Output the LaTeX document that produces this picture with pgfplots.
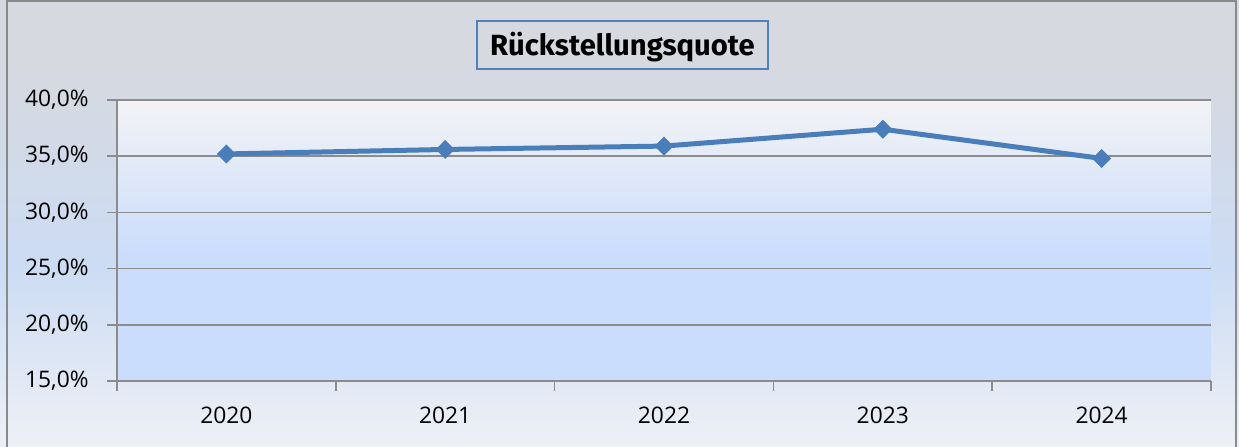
\documentclass[border=0pt]{standalone}
\usepackage{fontspec}
\setmainfont{Open Sans}
\newfontfamily\titlefont{Fira Sans}
\usepackage{pgfplots}
\pgfplotsset{compat=1.18}

\definecolor{serie}{HTML}{4A7EBB}
\definecolor{gridgray}{HTML}{8C8C8C}
\definecolor{framegray}{HTML}{8A8A8A}
\definecolor{titleblue}{HTML}{4F81BD}
\definecolor{bgtop}{HTML}{D6D9E0}
\definecolor{bgmid}{HTML}{CCDCF4}
\definecolor{bgbot}{HTML}{EEF0F5}
\definecolor{pltop}{HTML}{F3F3F5}
\definecolor{plbot}{HTML}{CADDFC}

% TikZ maps the path onto the 25bp--75bp band of the shading
\pgfdeclareverticalshading{bgshade}{100bp}{color(0bp)=(bgbot); color(25bp)=(bgbot); color(45bp)=(bgmid); color(67.5bp)=(bgtop); color(100bp)=(bgtop)}
\pgfdeclareverticalshading{plshade}{100bp}{color(0bp)=(plbot); color(47.5bp)=(plbot); color(75bp)=(pltop); color(100bp)=(pltop)}

\begin{document}
\begin{tikzpicture}
\useasboundingbox (0,0) rectangle (619.5pt,223pt);
\shade[shading=bgshade] (0,0) rectangle (619.5pt,223pt);
\draw[framegray, line width=1pt] (3.5pt,-2pt) -- (3.5pt,222.5pt) -- (618pt,222.5pt) -- (618pt,-2pt);
\node[draw=titleblue, line width=0.75pt, minimum width=145.5pt, minimum height=24pt,
      text height=10pt, text depth=0pt,
      font=\titlefont\bfseries\fontsize{14.6}{17}\selectfont] at (311.25pt,200.5pt) {Rückstellungsquote};
\begin{axis}[
    at={(58.5pt,32.5pt)}, anchor=south west,
    scale only axis,
    width=547pt, height=140.5pt,
    xmin=-0.5, xmax=4.5,
    ymin=15, ymax=40,
    axis lines*=left,
    axis line style={gridgray, line width=0.8pt, -},
    xtick={-0.5,0.5,...,4.5},
    x tick label as interval,
    xticklabels={2020,2021,2022,2023,2024},
    ytick={15,20,...,40},
    yticklabels={{15,0\%},{20,0\%},{25,0\%},{30,0\%},{35,0\%},{40,0\%}},
    tick align=outside,
    major tick length=5pt,
    tick style={gridgray, line width=0.8pt},
    ymajorgrids=true,
    major grid style={gridgray, line width=0.8pt},
    tick label style={font=\fontsize{11.4}{13}\selectfont, text=black},
    yticklabel style={anchor=east, inner sep=0pt, xshift=-9pt},
    xticklabel style={anchor=north, inner sep=0pt, yshift=-8pt},
    axis background/.style={shading=plshade},
    clip=false,
]
\addplot[serie, line width=2.5pt, mark=square*, mark size=3.1pt,
         mark options={rotate=45, solid, line width=0.5pt}]
    coordinates {(0,35.2) (1,35.6) (2,35.9) (3,37.4) (4,34.8)};
\end{axis}
\end{tikzpicture}
\end{document}
